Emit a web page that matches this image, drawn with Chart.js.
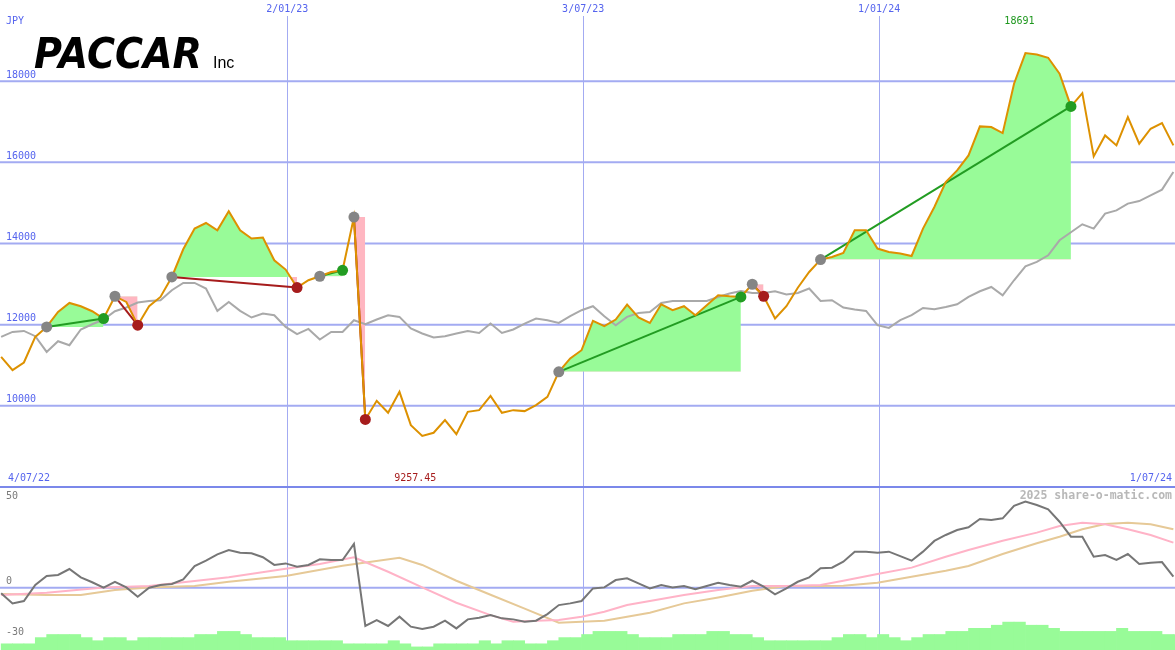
<!DOCTYPE html>
<html>
<head>
<meta charset="utf-8">
<script src="https://cdn.jsdelivr.net/npm/chart.js@4.4.1/dist/chart.umd.min.js"></script>
<style>
  html, body { margin: 0; padding: 0; background: #fff; }
  #wrap { position: relative; width: 1175px; height: 650px; overflow: hidden; }
  #wrap canvas { position: absolute; left: 0; }
  #priceChart { top: 0; }
  #oscChart { top: 487px; }
</style>
</head>
<body>
<div id="wrap">
  <canvas id="priceChart" width="1175" height="487"></canvas>
  <canvas id="oscChart" width="1175" height="163"></canvas>
</div>
<script>
// -------------------- data (weekly closes, JPY)
var firstDay = 6;                 // days after 4/07/22 of the first weekly close
var lastDay = 728;                // 1/07/24
var gridDays = [182, 364, 546];
var gridLabels = ['2/01/23', '3/07/23', '1/01/24'];
var startLabel = '4/07/22';
var endLabel = '1/07/24';
var priceTicks = [10000, 12000, 14000, 16000, 18000];
var oscTicks = [50, 0, -30];

var price = [11206, 10879, 11068, 11699, 11945, 12314, 12535, 12454, 12331, 12151,
  12700, 12560, 11987, 12454, 12683, 13175, 13857, 14367, 14505, 14325,
  14793, 14325, 14121, 14145, 13587, 13358, 12915, 13094, 13193, 13299,
  13340, 14652, 9665, 10123, 9828, 10345, 9525, 9257.45, 9336, 9648,
  9303, 9852, 9894, 10246, 9828, 9894, 9870, 10017, 10222, 10837,
  11167, 11371, 12092, 11962, 12127, 12496, 12176, 12043, 12503, 12356,
  12454, 12233, 12479, 12725, 12700, 12683, 12996, 12700, 12151, 12454,
  12910, 13299, 13604, 13668, 13766, 14325, 14325, 13875, 13791, 13751,
  13692, 14367, 14899, 15514, 15802, 16171, 16885, 16868, 16720, 17936,
  18691, 18657, 18576, 18182, 17377, 17705, 16147, 16663, 16417, 17114,
  16459, 16828, 16966, 16417];

var bench = [11699, 11822, 11846, 11716, 11329, 11593, 11494, 11881, 12011, 12127,
  12331, 12422, 12545, 12585, 12602, 12848, 13028, 13028, 12890, 12339,
  12560, 12339, 12176, 12275, 12233, 11945, 11765, 11895, 11635, 11822,
  11822, 12110, 12011, 12127, 12233, 12191, 11905, 11782, 11684, 11716,
  11782, 11846, 11797, 12028, 11797, 11881, 12028, 12151, 12110, 12043,
  12208, 12356, 12454, 12208, 11987, 12191, 12289, 12314, 12535, 12585,
  12585, 12585, 12585, 12683, 12767, 12831, 12782, 12782, 12823, 12742,
  12782, 12890, 12585, 12602, 12422, 12373, 12339, 11987, 11920, 12110,
  12233, 12412, 12380, 12437, 12503, 12683, 12823, 12929, 12725, 13094,
  13439, 13545, 13710, 14079, 14276, 14473, 14367, 14736, 14817, 14982,
  15046, 15187, 15327, 15760];

var osc = [-3.3, -9.2, -7.8, 1.6, 6.9, 7.5, 11, 6.1, 3.2, 0,
  3.5, 0.2, -5.3, 0, 1.6, 2.2, 4.9, 12.7, 15.9, 19.6,
  22.2, 20.6, 20.2, 17.9, 13.4, 14.3, 12.4, 13.4, 16.7, 16.3,
  16.3, 25.7, -22.5, -19, -22.5, -17, -22.9, -24.3, -22.9, -19.4,
  -23.9, -18.6, -17.6, -16.1, -18, -18.6, -20, -19.4, -15.5, -10.2,
  -9.2, -7.8, -0.4, 0.2, 4.5, 5.5, 2.6, -0.4, 1.6, 0.2,
  1, -0.9, 1, 2.9, 1.6, 0.6, 4.1, 0.6, -3.9, -0.4,
  3.5, 6.1, 11.4, 11.8, 15.3, 21.2, 21.2, 20.6, 21.2, 18.6,
  15.9, 21.2, 27.5, 31, 33.9, 35.5, 40.4, 39.8, 40.8, 48.1,
  50.6, 48.6, 46.1, 38.8, 30, 30, 18.2, 19.2, 16.3, 19.8,
  13.9, 14.7, 15.1, 6.5];

// smooth averages, read at these weeks
var fastWeeks = [0, 4, 9, 13, 17, 20, 25, 28, 31, 34, 37, 40, 43, 45, 47, 49, 51, 53, 55, 57,
  60, 63, 66, 69, 72, 74, 77, 80, 83, 85, 88, 91, 93, 95, 97, 99, 101, 103];
var fastVals = [-4.3, -2.9, 0.2, 1, 3.9, 6.1, 11.2, 13.9, 17.9, 9.4, 0.2, -8.8, -16.1, -20, -19.4, -19, -17, -14.1, -10.2, -7.8,
  -4.3, -1.4, 1, 1, 1.6, 4.1, 8.1, 11.8, 18.2, 22.2, 27.6, 32.4, 36.3, 38.2, 37.3, 34.4, 31, 26.5];
var slowWeeks = [0, 4, 7, 10, 13, 17, 20, 25, 30, 35, 37, 40, 43, 46, 49, 51, 53, 55, 57, 60,
  63, 66, 69, 72, 74, 77, 80, 83, 85, 88, 91, 93, 95, 97, 99, 101, 103];
var slowVals = [-3.7, -4.3, -4.3, -1.4, 0.2, 1, 3.5, 6.9, 12.9, 17.6, 13.4, 4.1, -4.1, -12.3, -20.6, -20, -19.4, -17, -14.7, -9.2,
  -5.7, -1.8, 1, 1, 1.2, 2.9, 6.5, 10, 12.8, 19.8, 26.1, 30, 34.4, 37.5, 38.2, 37.3, 34.4];

var volume = [2, 2, 2, 4, 5, 5, 5, 4, 3, 4,
  4, 3, 4, 4, 4, 4, 4, 5, 5, 6,
  6, 5, 4, 4, 4, 3, 3, 3, 3, 3,
  2, 2, 2, 2, 3, 2, 1, 1, 2, 2,
  2, 2, 3, 2, 3, 3, 2, 2, 3, 4,
  4, 5, 6, 6, 6, 5, 4, 4, 4, 5,
  5, 5, 6, 6, 5, 5, 4, 3, 3, 3,
  3, 3, 3, 4, 5, 5, 4, 5, 4, 3,
  4, 5, 5, 6, 6, 7, 7, 8, 9, 9,
  8, 8, 7, 6, 6, 6, 6, 6, 7, 6,
  6, 6, 5, 5];

// signals: week where it starts (gray dot) and where it ends
var sigStart = [4, 10, 15, 28, 31, 49, 66, 72];
var sigEnd = [9, 12, 26, 30, 32, 65, 67, 94];

// -------------------- helpers
var days = [];
for (var i = 0; i < price.length; i++) days.push(firstDay + 7 * i);

function pts(vals, idx) {
  var out = [];
  for (var j = 0; j < vals.length; j++) {
    var k = idx ? idx[j] : j;
    out.push({ x: days[k], y: vals[j] });
  }
  return out;
}

var GREEN = '#229c22', DKRED = '#a61c1c', GRAYDOT = '#858585';
var FILLG = '#98fb98', FILLP = '#ffb6c1';
var GRID = '#a3abf2', LABEL = '#5564ee';
var MONO = '"DejaVu Sans Mono", monospace';

// -------------------- top chart
var dsTop = [];
var markPts = [], markCols = [];
for (var s = 0; s < sigStart.length; s++) {
  var a = sigStart[s], b = sigEnd[s];
  var up = price[b] > price[a];
  var seg = [];
  for (var k = a; k <= b; k++) seg.push({ x: days[k], y: price[k] });
  dsTop.push({
    data: seg, borderWidth: 0, borderColor: 'rgba(0,0,0,0)', pointRadius: 0, order: 5,
    fill: { target: { value: price[a] }, above: FILLG, below: FILLP }
  });
  dsTop.push({
    data: [{ x: days[a], y: price[a] }, { x: days[b], y: price[b] }],
    borderColor: up ? GREEN : DKRED, borderWidth: 2, pointRadius: 0, order: 2
  });
  markPts.push({ x: days[a], y: price[a] }); markCols.push(GRAYDOT);
  markPts.push({ x: days[b], y: price[b] }); markCols.push(up ? GREEN : DKRED);
}
dsTop.push({ data: pts(bench), borderColor: '#a9a9a9', borderWidth: 2, pointRadius: 0, order: 3 });
dsTop.push({ data: pts(price), borderColor: '#dd9100', borderWidth: 2, pointRadius: 0, order: 1 });
dsTop.push({
  data: markPts, showLine: false, pointRadius: 5.5, pointBorderWidth: 0,
  pointBackgroundColor: markCols, order: 0
});

var topDeco = {
  id: 'topDeco',
  beforeDatasetsDraw: function (chart) {
    var ctx = chart.ctx, xs = chart.scales.x, ys = chart.scales.y, w = chart.width;
    ctx.save();
    ctx.strokeStyle = GRID;
    ctx.lineWidth = 1;
    gridDays.forEach(function (d) {
      var x = Math.round(xs.getPixelForValue(d)) + 0.5;
      ctx.beginPath(); ctx.moveTo(x, 16); ctx.lineTo(x, chart.height); ctx.stroke();
    });
    ctx.lineWidth = 2;
    priceTicks.forEach(function (v) {
      var y = ys.getPixelForValue(v);
      ctx.beginPath(); ctx.moveTo(0, y); ctx.lineTo(w, y); ctx.stroke();
    });
    ctx.restore();
  },
  afterDraw: function (chart) {
    var ctx = chart.ctx, xs = chart.scales.x, ys = chart.scales.y, w = chart.width, h = chart.height;
    ctx.save();
    ctx.fillStyle = '#7b88ea';
    ctx.fillRect(0, h - 1, w, 1);
    ctx.font = '10px ' + MONO;
    ctx.textBaseline = 'middle';
    ctx.fillStyle = LABEL;
    ctx.textAlign = 'left';
    ctx.fillText('JPY', 6, 21);
    priceTicks.forEach(function (v) { ctx.fillText(String(v), 6, ys.getPixelForValue(v) - 6); });
    ctx.fillText(startLabel, 8, h - 9);
    ctx.textAlign = 'right';
    ctx.fillText(endLabel, w - 3, h - 9);
    ctx.textAlign = 'center';
    gridDays.forEach(function (d, j) { ctx.fillText(gridLabels[j], xs.getPixelForValue(d), 9); });
    var hi = price.indexOf(Math.max.apply(null, price));
    var lo = price.indexOf(Math.min.apply(null, price));
    ctx.fillStyle = '#1d971d';
    ctx.fillText(String(price[hi]), xs.getPixelForValue(days[hi]) - 6, 21);
    ctx.fillStyle = DKRED;
    ctx.fillText(price[lo].toFixed(2), xs.getPixelForValue(days[lo]) - 7, h - 9);
    // logo
    ctx.fillStyle = '#000';
    ctx.textBaseline = 'alphabetic';
    ctx.textAlign = 'left';
    ctx.font = 'italic bold 43px "DejaVu Sans"';
    var tw = ctx.measureText('PACCAR').width;
    ctx.save();
    ctx.translate(34, 68);
    ctx.scale(168 / tw, 1);
    ctx.fillText('PACCAR', 0, 0);
    ctx.restore();
    ctx.font = '16px "Liberation Sans"';
    ctx.fillText('Inc', 213, 68);
    ctx.restore();
  }
};

new Chart(document.getElementById('priceChart').getContext('2d'), {
  type: 'line',
  data: { datasets: dsTop },
  options: {
    responsive: false, animation: false, devicePixelRatio: 1,
    layout: { padding: 0, autoPadding: false },
    elements: { line: { tension: 0 } },
    plugins: { legend: { display: false }, tooltip: { enabled: false } },
    scales: {
      x: { type: 'linear', min: 5.3, max: lastDay, display: false },
      y: { min: 8000, max: 20000, display: false }
    }
  },
  plugins: [topDeco]
});

// -------------------- bottom chart
var botDeco = {
  id: 'botDeco',
  beforeDatasetsDraw: function (chart) {
    var ctx = chart.ctx, xs = chart.scales.x, ys = chart.scales.y, w = chart.width;
    ctx.save();
    ctx.strokeStyle = GRID;
    ctx.lineWidth = 1;
    gridDays.forEach(function (d) {
      var x = Math.round(xs.getPixelForValue(d)) + 0.5;
      ctx.beginPath(); ctx.moveTo(x, 0); ctx.lineTo(x, chart.height); ctx.stroke();
    });
    ctx.lineWidth = 2;
    var y0 = ys.getPixelForValue(0);
    ctx.beginPath(); ctx.moveTo(0, y0); ctx.lineTo(w, y0); ctx.stroke();
    ctx.restore();
  },
  afterDraw: function (chart) {
    var ctx = chart.ctx, ys = chart.scales.y, w = chart.width, h = chart.height;
    ctx.save();
    ctx.fillStyle = '#7b88ea';
    ctx.fillRect(0, 0, w, 1);
    ctx.font = '10px ' + MONO;
    ctx.textBaseline = 'middle';
    ctx.textAlign = 'left';
    ctx.fillStyle = '#7a7a7a';
    oscTicks.forEach(function (v) {
      ctx.fillText(String(v), 6, Math.min(ys.getPixelForValue(v) - 6, h - 8.5));
    });
    ctx.textAlign = 'right';
    ctx.fillStyle = '#b8b8b8';
    ctx.font = 'bold 11.5px ' + MONO;
    ctx.fillText('2025 share-o-matic.com', w - 3, 9.5);
    ctx.restore();
  }
};

new Chart(document.getElementById('oscChart').getContext('2d'), {
  type: 'line',
  data: {
    datasets: [
      { data: pts(osc), borderColor: '#767676', borderWidth: 2, pointRadius: 0, order: 0 },
      { data: pts(fastVals, fastWeeks), borderColor: '#ffb3c7', borderWidth: 2, pointRadius: 0, order: 1 },
      { data: pts(slowVals, slowWeeks), borderColor: '#e6c997', borderWidth: 2, pointRadius: 0, order: 2 },
      {
        type: 'bar', yAxisID: 'yv', order: 3,
        data: volume.map(function (v, j) { return { x: days[j] + 3.5, y: v }; }),
        backgroundColor: FILLG, borderWidth: 0, barPercentage: 1, categoryPercentage: 1
      }
    ]
  },
  options: {
    responsive: false, animation: false, devicePixelRatio: 1,
    layout: { padding: 0, autoPadding: false },
    elements: { line: { tension: 0 } },
    plugins: { legend: { display: false }, tooltip: { enabled: false } },
    scales: {
      x: { type: 'linear', min: 5.3, max: lastDay, display: false, offset: false },
      y: { min: -36.6, max: 59.2, display: false },
      yv: { min: 0, max: 52.6, display: false }
    }
  },
  plugins: [botDeco]
});
</script>
</body>
</html>
